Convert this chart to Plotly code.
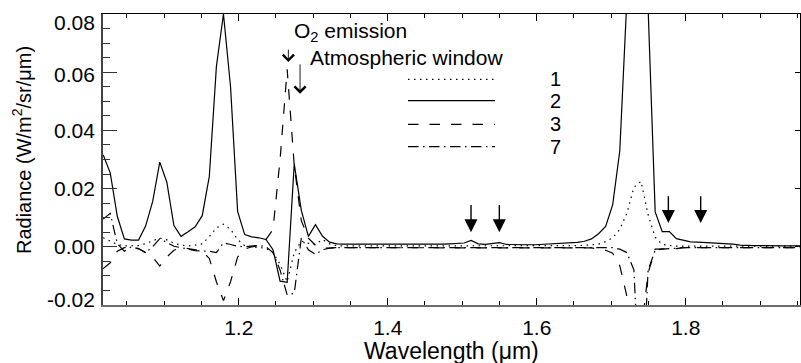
import plotly.graph_objects as go

wavelength = [1.0180, 1.0275, 1.0370, 1.0465, 1.0560, 1.0655, 1.0750, 1.0845, 1.0940, 1.1035,
              1.1130, 1.1225, 1.1320, 1.1415, 1.1510, 1.1605, 1.1700, 1.1795, 1.1890, 1.1985,
              1.2080, 1.2175, 1.2270, 1.2365, 1.2460, 1.2555, 1.2650, 1.2745, 1.2840, 1.2935,
              1.3030, 1.3125, 1.3220, 1.3315, 1.3410, 1.3505, 1.3600, 1.3695, 1.3790, 1.3885,
              1.3980, 1.4075, 1.4170, 1.4265, 1.4360, 1.4455, 1.4550, 1.4645, 1.4740, 1.4835,
              1.4930, 1.5025, 1.5120, 1.5215, 1.5310, 1.5405, 1.5500, 1.5595, 1.5690, 1.5785,
              1.5880, 1.5975, 1.6070, 1.6165, 1.6260, 1.6355, 1.6450, 1.6545, 1.6640, 1.6735,
              1.6830, 1.6925, 1.7020, 1.7115, 1.7210, 1.7305, 1.7400, 1.7495, 1.7590, 1.7685,
              1.7780, 1.7875, 1.7970, 1.8065, 1.8160, 1.8255, 1.8350, 1.8445, 1.8540, 1.8635,
              1.8730, 1.8825, 1.8920, 1.9015, 1.9110, 1.9205, 1.9300, 1.9395, 1.9490, 1.9585]

series_1 = [0.0031, 0.0019, 0.0008, 0.0003, 0.0003, 0.0004, 0.0011, 0.0020, 0.0030, 0.0024,
            0.0012, 0.0006, 0.0003, 0.0006, 0.0010, 0.0035, 0.0065, 0.0078, 0.0060, 0.0025,
            0.0004, 0.0000, -0.0002, -0.0005, -0.0020, -0.0060, -0.0120, -0.0020, 0.0020, 0.0012,
            0.0008, 0.0025, 0.0010, 0.0004, 0.0003, 0.0003, 0.0002, 0.0002, 0.0002, 0.0002,
            0.0002, 0.0002, 0.0002, 0.0002, 0.0003, 0.0003, 0.0003, 0.0003, 0.0003, 0.0003,
            0.0003, 0.0003, 0.0004, 0.0003, 0.0003, 0.0003, 0.0003, 0.0003, 0.0003, 0.0003,
            0.0003, 0.0003, 0.0003, 0.0003, 0.0003, 0.0003, 0.0004, 0.0004, 0.0005, 0.0006,
            0.0009, 0.0018, 0.0031, 0.0060, 0.0115, 0.0205, 0.0225, 0.0110, 0.0033, 0.0008,
            0.0004, 0.0002, 0.0002, 0.0002, 0.0002, 0.0002, 0.0002, 0.0002, 0.0002, 0.0002,
            0.0002, 0.0002, 0.0002, 0.0002, 0.0002, 0.0002, 0.0002, 0.0002, 0.0002, 0.0002]

series_2 = [0.0316, 0.0254, 0.0105, 0.0027, 0.0023, 0.0023, 0.0071, 0.0156, 0.0291, 0.0222,
            0.0073, 0.0036, 0.0052, 0.0069, 0.0107, 0.0242, 0.0619, 0.0800, 0.0550, 0.0122,
            0.0042, 0.0034, 0.0031, 0.0025, -0.0010, -0.0118, -0.0122, 0.0285, 0.0125, 0.0036,
            0.0076, 0.0036, 0.0016, 0.0010, 0.0009, 0.0009, 0.0008, 0.0008, 0.0008, 0.0008,
            0.0007, 0.0007, 0.0007, 0.0007, 0.0007, 0.0008, 0.0008, 0.0009, 0.0009, 0.0010,
            0.0011, 0.0013, 0.0022, 0.0010, 0.0008, 0.0010, 0.0014, 0.0008, 0.0007, 0.0007,
            0.0007, 0.0007, 0.0008, 0.0009, 0.0010, 0.0011, 0.0013, 0.0015, 0.0019, 0.0027,
            0.0045, 0.0070, 0.0145, 0.0330, 0.0850, 0.1600, 0.1700, 0.0820, 0.0120, 0.0052,
            0.0052, 0.0028, 0.0022, 0.0017, 0.0016, 0.0015, 0.0014, 0.0013, 0.0012, 0.0009,
            0.0006, 0.0004, 0.0004, 0.0004, 0.0003, 0.0003, 0.0003, 0.0003, 0.0003, 0.0003]

series_3 = [-0.0075, -0.0055, -0.0015, -0.0003, 0.0000, -0.0006, -0.0020, -0.0035, -0.0066, -0.0035,
            -0.0012, -0.0003, -0.0006, -0.0010, -0.0015, -0.0040, -0.0120, -0.0185, -0.0120, -0.0035,
            -0.0008, 0.0000, 0.0004, 0.0025, 0.0060, 0.0300, 0.0610, 0.0280, 0.0090, 0.0030,
            0.0005, -0.0005, -0.0003, -0.0003, -0.0003, -0.0003, -0.0003, -0.0003, -0.0003, -0.0003,
            -0.0003, -0.0003, -0.0003, -0.0003, -0.0003, -0.0003, -0.0003, -0.0003, -0.0003, -0.0003,
            -0.0003, -0.0003, -0.0002, -0.0003, -0.0003, -0.0003, -0.0002, -0.0003, -0.0003, -0.0003,
            -0.0003, -0.0003, -0.0003, -0.0003, -0.0003, -0.0003, -0.0003, -0.0003, -0.0003, -0.0004,
            -0.0007, -0.0012, -0.0022, -0.0065, -0.0170, -0.0400, -0.0300, -0.0090, -0.0008, -0.0008,
            -0.0008, -0.0006, -0.0003, -0.0003, -0.0003, -0.0003, -0.0003, -0.0003, -0.0003, -0.0003,
            -0.0003, -0.0003, -0.0003, -0.0003, -0.0003, -0.0003, -0.0003, -0.0003, -0.0003, -0.0003]

series_7 = [0.0095, 0.0115, 0.0010, -0.0015, 0.0000, -0.0007, -0.0020, 0.0000, 0.0028, 0.0016,
            0.0002, -0.0003, -0.0009, -0.0013, -0.0015, -0.0015, -0.0020, 0.0014, 0.0008, 0.0002,
            0.0000, 0.0003, 0.0005, 0.0000, -0.0020, -0.0080, -0.0165, -0.0160, 0.0030, -0.0010,
            -0.0026, -0.0010, -0.0005, -0.0003, -0.0003, -0.0003, -0.0003, -0.0003, -0.0003, -0.0003,
            -0.0003, -0.0003, -0.0003, -0.0003, -0.0003, -0.0003, -0.0003, -0.0003, -0.0003, -0.0003,
            -0.0003, -0.0003, -0.0002, -0.0003, -0.0003, -0.0003, -0.0002, -0.0003, -0.0003, -0.0003,
            -0.0003, -0.0003, -0.0003, -0.0003, -0.0003, -0.0003, -0.0003, -0.0003, -0.0003, -0.0003,
            -0.0003, -0.0003, -0.0003, -0.0008, -0.0020, -0.0080, -0.0600, -0.0080, -0.0012, -0.0008,
            -0.0006, -0.0003, -0.0003, -0.0003, -0.0003, -0.0003, -0.0003, -0.0003, -0.0003, -0.0003,
            -0.0003, -0.0003, -0.0003, -0.0003, -0.0003, -0.0003, -0.0003, -0.0003, -0.0003, -0.0003]

legend_labels = ["1", "2", "3", "7"]
x_ticks = [1.2, 1.4, 1.6, 1.8]
y_ticks = [-0.02, 0.00, 0.02, 0.04, 0.06, 0.08]
y_tick_text = ["-0.02", "0.00", "0.02", "0.04", "0.06", "0.08"]
y_label_shift = [6, 0, 0, 0, -2, -8]   # edge labels pulled inside, as in the original
x_range = [1.0178, 1.9534]
y_range = [-0.02, 0.08]

# filled arrows marking features: (x, tip y, tail y)
feature_arrow_x = [1.5118, 1.5498, 1.7767, 1.8201]
feature_arrow_tip = [0.0050, 0.0050, 0.0082, 0.0082]
feature_arrow_tail = [0.0149, 0.0149, 0.0179, 0.0179]

# open arrows for the O2 emission and window labels
open_arrow_x = [1.2666, 1.2823]
open_arrow_tip = [0.0635, 0.0526]
open_arrow_tail = [0.0683, 0.0632]

FONT = "Liberation Sans, Arial, Helvetica, sans-serif"

dash_styles = ["1.5px,4.5px", "solid", "10.5px,11px", "10.5px,4.5px,1.5px,4.5px"]
all_series = [series_1, series_2, series_3, series_7]

fig = go.Figure()
for ys, dsh, lab in zip(all_series, dash_styles, legend_labels):
    fig.add_trace(go.Scatter(x=wavelength, y=ys, mode="lines", name=lab,
                             line=dict(color="black", width=1.2, dash=dsh),
                             showlegend=False))

# dummy trace for mirrored top/right axes
fig.add_trace(go.Scatter(x=[None], y=[None], xaxis="x2", yaxis="y2",
                         showlegend=False, hoverinfo="skip"))

shapes = []
annotations = []

# legend drawn manually (IDL style)
leg_y = [0.7756, 0.702, 0.621, 0.544]
for dsh, lab, ly in zip(dash_styles, legend_labels, leg_y):
    shapes.append(dict(type="line", xref="paper", yref="paper",
                       x0=0.4376, x1=0.5624, y0=ly, y1=ly,
                       line=dict(color="black", width=1.2, dash=dsh)))
    annotations.append(dict(xref="paper", yref="paper", x=0.6485, y=ly,
                            text=lab, showarrow=False, xanchor="center", yanchor="middle",
                            font=dict(family=FONT, size=20, color="black")))

# y tick labels
for yv, yt, sh in zip(y_ticks, y_tick_text, y_label_shift):
    annotations.append(dict(xref="paper", yref="y", x=-0.0086, y=yv, yshift=sh,
                            text=yt, showarrow=False, xanchor="right", yanchor="middle",
                            font=dict(family=FONT, size=21, color="black")))

for ax_, tip, tail in zip(feature_arrow_x, feature_arrow_tip, feature_arrow_tail):
    annotations.append(dict(x=ax_, y=tip, ax=ax_, ay=tail, xref="x", yref="y",
                            axref="x", ayref="y", showarrow=True, text="",
                            arrowhead=2, arrowsize=1.86, arrowwidth=1.4,
                            arrowcolor="black", standoff=0))

for ax_, tip, tail in zip(open_arrow_x, open_arrow_tip, open_arrow_tail):
    annotations.append(dict(x=ax_, y=tip, ax=ax_, ay=tail, xref="x", yref="y",
                            axref="x", ayref="y", showarrow=True, text="",
                            arrowhead=4, arrowsize=2.4, arrowwidth=0.9,
                            arrowcolor="black", standoff=0))

annotations.append(dict(xref="paper", yref="paper", x=0.2707, y=0.9381,
                        text="O<sub>2</sub> emission", showarrow=False,
                        xanchor="left", yanchor="middle",
                        font=dict(family=FONT, size=21, color="black")))
annotations.append(dict(xref="paper", yref="paper", x=0.294, y=0.8522,
                        text="Atmospheric window", showarrow=False,
                        xanchor="left", yanchor="middle",
                        font=dict(family=FONT, size=21, color="black")))

# axis titles
annotations.append(dict(xref="paper", yref="paper", x=0.5, y=-0.158,
                        text="Wavelength (μm)", showarrow=False,
                        xanchor="center", yanchor="middle",
                        font=dict(family=FONT, size=23, color="black")))
annotations.append(dict(xref="paper", yref="paper", x=-0.116, y=0.533,
                        text="Radiance (W/m<sup>2</sup>/sr/μm)", showarrow=False,
                        textangle=-90, xanchor="center", yanchor="middle",
                        font=dict(family=FONT, size=20, color="black")))

fig.update_layout(
    width=801, height=363,
    margin=dict(l=103, r=1, t=14, b=58),
    paper_bgcolor="white", plot_bgcolor="white",
    font=dict(family=FONT, size=21, color="black"),
    shapes=shapes, annotations=annotations,
    xaxis=dict(range=x_range, tickvals=x_ticks, ticktext=[f"{v:.1f}" for v in x_ticks],
               ticks="inside", ticklen=7, tickwidth=1, tickcolor="black",
               minor=dict(dtick=0.05, tick0=1.0, ticks="inside", ticklen=4, tickcolor="black"),
               showline=True, linecolor="#6b6b6b", linewidth=2, mirror=False,
               showgrid=False, zeroline=False, ticklabelstandoff=3,
               tickfont=dict(family=FONT, size=21)),
    xaxis2=dict(range=x_range, overlaying="x", side="top", tickvals=x_ticks,
                ticks="inside", ticklen=7, tickcolor="black", showticklabels=False,
                minor=dict(dtick=0.05, tick0=1.0, ticks="inside", ticklen=4, tickcolor="black"),
                showline=True, linecolor="black", linewidth=1, showgrid=False, zeroline=False),
    yaxis=dict(range=y_range, tickvals=y_ticks, showticklabels=False,
               ticks="inside", ticklen=14, tickwidth=1, tickcolor="#333",
               minor=dict(dtick=0.005, tick0=0, ticks="inside", ticklen=7, tickcolor="#333"),
               showline=True, linecolor="#444", linewidth=1.5, mirror=False,
               showgrid=False, zeroline=False),
    yaxis2=dict(range=y_range, overlaying="y", side="right", tickvals=y_ticks,
                ticks="inside", ticklen=5, tickcolor="black", showticklabels=False,
                showline=True, linecolor="black", linewidth=1, showgrid=False, zeroline=False),
)

fig.write_html("out.html")
